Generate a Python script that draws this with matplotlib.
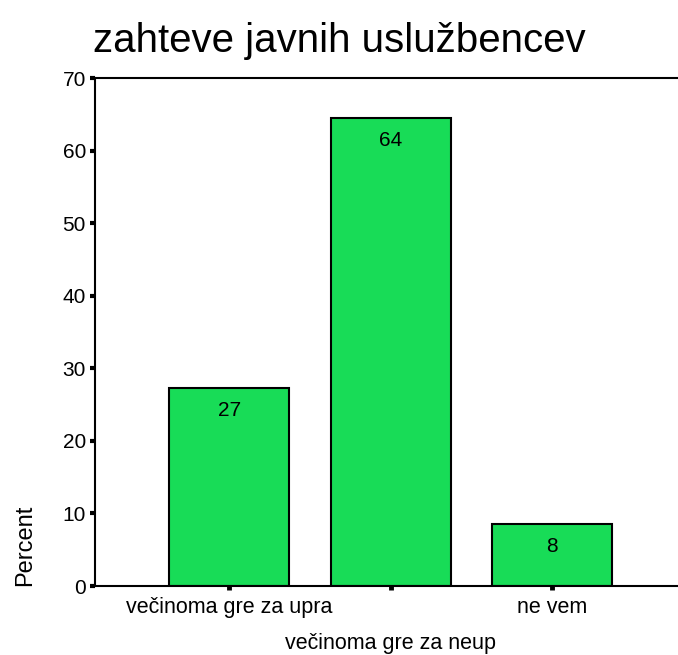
import matplotlib
matplotlib.use('Agg')
import matplotlib.pyplot as plt

plt.rcParams['font.family'] = ['Liberation Sans', 'DejaVu Sans']

categories = ['večinoma gre za upra', 'večinoma gre za neup', 'ne vem']
percent = [27.3, 64.5, 8.5]
bar_labels = ['27', '64', '8']

fig = plt.figure(figsize=(6.78, 6.55), dpi=100)
ax = fig.add_axes([95/678, 69/655, 1 - 95/678 + 0.002, 508/655])

x = list(range(len(categories)))
bars = ax.bar(x, percent, width=0.745, color='#18dc57', edgecolor='black', linewidth=1.5, zorder=2)

for b, lab in zip(bars, bar_labels):
    ax.annotate(lab, (b.get_x() + b.get_width()/2, b.get_height()), xytext=(0, -16),
                textcoords='offset points', ha='center', va='center', fontsize=15)

ax.set_xlim(-0.832, 2.789)
ax.set_ylim(0, 70)
ax.set_yticks(range(0, 71, 10))
ax.set_xticks(x)
ax.set_xticklabels(['', '', ''])

# staggered category labels like the original
for i, c in enumerate(categories):
    off = -34 if i == 1 else -8
    ax.annotate(c, (i, 0), xycoords=('data', 'axes fraction'), xytext=(0, off),
                textcoords='offset points', ha='center', va='top', fontsize=15.5)

ax.tick_params(axis='y', direction='out', length=3.5, width=3, labelsize=15, pad=3)
ax.tick_params(axis='x', direction='out', length=3, width=3.5)
for s in ['left', 'bottom', 'top']:
    ax.spines[s].set_linewidth(1.5)
ax.spines['right'].set_visible(False)

ax.set_ylabel('Percent', fontsize=17, loc='bottom', labelpad=19)

fig.text(93/678, 1 - 41/655, 'zahteve javnih uslužbencev', fontsize=29, ha='left', va='center')

fig.savefig('out.png', dpi=100)
